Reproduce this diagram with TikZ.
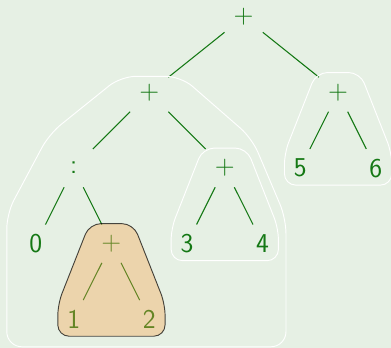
\documentclass[tikz,border=0pt]{standalone}
\usepackage{tikz}
\usetikzlibrary{calc}
\definecolor{bggreen}{RGB}{230,240,228}
\definecolor{treegreen}{RGB}{20,120,20}
\definecolor{hulltan}{RGB}{250,160,70}

\begin{document}
\begin{tikzpicture}[
    every node/.style={text=treegreen, font=\fontsize{20.5}{24}\sffamily,
        inner sep=0pt, minimum width=1cm, minimum height=1cm},
    edge/.style={draw=treegreen, line width=0.8pt},
    hull/.style={draw=white, line width=0.7pt, rounded corners=0.3cm},
    pick/.style={draw=black, draw opacity=0.7, line width=0.7pt,
        fill=hulltan, fill opacity=0.35, rounded corners=0.3cm}
]
    % background, fixes the size too
    \fill[bggreen] (0.05,0) rectangle (10.4,-9.2);
    \useasboundingbox (0.05,0) rectangle (10.4,-9.2);

    % the tree
    \node (root) at (6.5,-0.45) {+};
    \node (sumA) at (4,-2.45) {+};
    \node (sumB) at (9,-2.45) {+};
    \node (cons) at (2,-4.45) {:};
    \node (sumC) at (6,-4.45) {+};
    \node (n5) at (8,-4.45) {5};
    \node (n6) at (10,-4.45) {6};
    \node (n0) at (1,-6.45) {0};
    \node (sumD) at (3,-6.45) {+};
    \node (n3) at (5,-6.45) {3};
    \node (n4) at (7,-6.45) {4};
    \node (n1) at (2,-8.45) {1};
    \node (n2) at (4,-8.45) {2};

    % edges
    \foreach \a/\b in {root/sumA, root/sumB, sumA/cons, sumA/sumC,
                       cons/n0, cons/sumD, sumC/n3, sumC/n4,
                       sumB/n5, sumB/n6, sumD/n1, sumD/n2}
        \draw[edge] (\a) -- (\b);

    % outline round the left subtree
    \draw[hull, rounded corners=0.4cm] (3.25,-2.02) -- (4.84,-2.02) -- (6.72,-3.66)
        -- (7.62,-5.78) -- (7.62,-9.18) -- (0.23,-9.18) -- (0.23,-5.65)
        -- (1.35,-3.55) -- cycle;

    % outlines round the small subtrees
    \foreach \p/\l/\r in {sumC/n3/n4, sumB/n5/n6}
        \draw[hull] ($(\p)+(-0.58,0.53)$) -- ($(\l)+(-0.42,0.4)$)
            -- ($(\l)+(-0.42,-0.45)$) -- ($(\r)+(0.42,-0.45)$)
            -- ($(\r)+(0.42,0.4)$) -- ($(\p)+(0.58,0.53)$) -- cycle;

    % highlighted subtree
    \draw[pick] ($(sumD)+(-0.58,0.53)$) -- ($(n1)+(-0.42,0.4)$)
        -- ($(n1)+(-0.42,-0.45)$) -- ($(n2)+(0.42,-0.45)$)
        -- ($(n2)+(0.42,0.4)$) -- ($(sumD)+(0.58,0.53)$) -- cycle;
\end{tikzpicture}
\end{document}
